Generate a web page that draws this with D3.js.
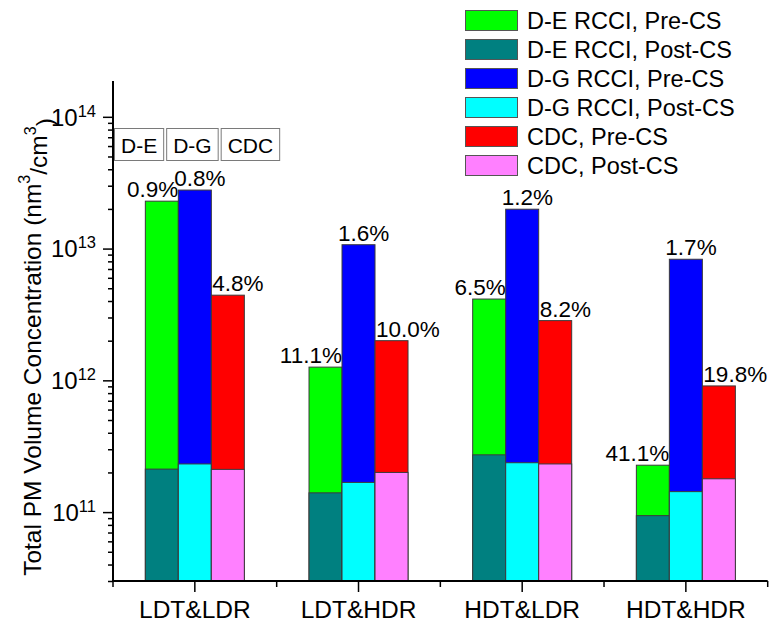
<!DOCTYPE html>
<html>
<head>
<meta charset="utf-8">
<script src="https://cdn.jsdelivr.net/npm/d3@7"></script>
<style>
  html, body { margin: 0; padding: 0; background: #fff; }
  svg { display: block; font-family: Arial, "Liberation Sans", sans-serif; }
</style>
</head>
<body>
<svg id="chart" width="769" height="623"></svg>
<script>
// ---- data ----
const categories = ["LDT&LDR", "LDT&HDR", "HDT&LDR", "HDT&HDR"];
const engines = ["D-E", "D-G", "CDC"];
const seriesNames = [
  "D-E RCCI, Pre-CS", "D-E RCCI, Post-CS",
  "D-G RCCI, Pre-CS", "D-G RCCI, Post-CS",
  "CDC, Pre-CS", "CDC, Post-CS"
];
// Pre-CS (before catalytic stripper) total PM volume, nm^3/cm^3
const preDE  = [2.29e13, 1.26e12, 4.14e12, 2.27e11];
const preDG  = [2.78e13, 1.07e13, 1.99e13, 8.3e12];
const preCDC = [4.43e12, 2.0e12, 2.84e12, 9.07e11];
// Post-CS
const postDE  = [2.12e11, 1.40e11, 2.72e11, 9.4e10];
const postDG  = [2.32e11, 1.68e11, 2.37e11, 1.43e11];
const postCDC = [2.11e11, 2.0e11, 2.32e11, 1.79e11];
// percentage labels (post / pre)
const pctDE  = ["0.9%", "11.1%", "6.5%", "41.1%"];
const pctDG  = ["0.8%", "1.6%", "1.2%", "1.7%"];
const pctCDC = ["4.8%", "10.0%", "8.2%", "19.8%"];
const yMajorTicks = [1e11, 1e12, 1e13, 1e14];
const yTickExponents = ["11", "12", "13", "14"];

// ---- layout ----
const svg = d3.select("#chart");
const X0 = 113, X1 = 767.7, Y0 = 581, Y1 = 81;
const x = d3.scaleBand().domain(categories).range([X0, X1]).padding(0);
const y = d3.scaleLog().domain([3e10, 1.87e14]).range([Y0, Y1]);
const barW = 33;
const colors = {
  pre:  ["#00ff00", "#0000ff", "#ff0000"],
  post: ["#008080", "#00ffff", "#ff80ff"]
};
const pre = [preDE, preDG, preCDC];
const post = [postDE, postDG, postCDC];
const pct = [pctDE, pctDG, pctCDC];

// bars
engines.forEach((eng, k) => {
  const off = (k - 1.5) * barW;
  const g = svg.append("g");
  g.selectAll("rect.pre").data(categories).join("rect")
    .attr("x", d => x(d) + x.bandwidth() / 2 + off)
    .attr("width", barW)
    .attr("y", (d, i) => y(pre[k][i]))
    .attr("height", (d, i) => Y0 - y(pre[k][i]))
    .attr("fill", colors.pre[k])
    .attr("stroke", "#3a3a3a").attr("stroke-width", 1);
  g.selectAll("rect.post").data(categories).join("rect")
    .attr("x", d => x(d) + x.bandwidth() / 2 + off)
    .attr("width", barW)
    .attr("y", (d, i) => y(post[k][i]))
    .attr("height", (d, i) => Y0 - y(post[k][i]))
    .attr("fill", colors.post[k])
    .attr("stroke", "#3a3a3a").attr("stroke-width", 1);
  // percentage labels
  g.selectAll("text").data(categories).join("text")
    .attr("x", d => {
      const left = x(d) + x.bandwidth() / 2 + off;
      return k === 0 ? left + barW : (k === 1 ? left - 4 : left + 1);
    })
    .attr("y", (d, i) => y(pre[k][i]) - 4)
    .attr("text-anchor", k === 0 ? "end" : "start")
    .attr("font-size", 22.5)
    .attr("fill", "#000")
    .text((d, i) => pct[k][i]);
});

// y axis
const minorTicks = [];
for (let e = 10; e <= 14; e++) {
  for (let m = 2; m <= 9; m++) {
    const v = m * Math.pow(10, e);
    if (v >= 3e10 && v <= 1.87e14) minorTicks.push(v);
  }
}
svg.append("g").attr("transform", `translate(${X0},0)`)
  .call(d3.axisLeft(y).tickValues(minorTicks).tickSize(5).tickFormat(""))
  .call(g => g.select(".domain").remove())
  .call(g => g.selectAll("line").attr("stroke", "#000").attr("stroke-width", 1.5));
const yMaj = svg.append("g").attr("transform", `translate(${X0},0)`)
  .call(d3.axisLeft(y).tickValues(yMajorTicks).tickSize(10).tickPadding(7).tickFormat(""))
  .call(g => g.select(".domain").remove())
  .call(g => g.selectAll("line").attr("stroke", "#000").attr("stroke-width", 1.5));
yMaj.selectAll(".tick text").each(function(d, i) {
  const t = d3.select(this);
  t.attr("font-size", 24).attr("font-family", "Arial, 'Liberation Sans', sans-serif")
   .attr("fill", "#000").attr("dy", "0.35em");
  t.append("tspan").text("10");
  t.append("tspan").attr("font-size", 16.5).attr("dy", "-0.55em").text(yTickExponents[i]);
});
svg.append("line").attr("x1", X0).attr("x2", X0).attr("y1", Y1).attr("y2", Y0 + 0.75)
  .attr("stroke", "#000").attr("stroke-width", 2);

// x axis
const xMajor = svg.append("g").attr("transform", `translate(0,${Y0})`)
  .call(d3.axisBottom(x).tickSize(11).tickPadding(10))
  .call(g => g.select(".domain").remove())
  .call(g => g.selectAll("line").attr("stroke", "#000").attr("stroke-width", 1.5));
xMajor.selectAll(".tick text").attr("font-size", 24.5).attr("fill", "#000")
  .attr("font-family", "Arial, 'Liberation Sans', sans-serif")
  .attr("dy", null).attr("y", 36.5);
const bounds = categories.map(c => x(c)).concat([X1]);
svg.append("g").selectAll("line").data(bounds).join("line")
  .attr("x1", d => d).attr("x2", d => d).attr("y1", Y0).attr("y2", Y0 + 6)
  .attr("stroke", "#000").attr("stroke-width", 1.5);
svg.append("line").attr("x1", X0 - 1).attr("x2", X1).attr("y1", Y0).attr("y2", Y0)
  .attr("stroke", "#000").attr("stroke-width", 2);

// y title
const title = svg.append("text")
  .attr("transform", `translate(41,${(Y0 + Y1) / 2 + 16}) rotate(-90)`)
  .attr("text-anchor", "middle").attr("font-size", 24.5).attr("fill", "#000");
title.append("tspan").text("Total PM Volume Concentration (nm");
title.append("tspan").attr("font-size", 16).attr("dy", "-0.7em").text("3");
title.append("tspan").attr("dy", "0.7em").text("/cm");
title.append("tspan").attr("font-size", 16).attr("dy", "-0.7em").text("3");
title.append("tspan").attr("dy", "0.7em").text(")");

// engine boxes
let bx = 114;
engines.forEach(name => {
  const g = svg.append("g");
  const t = g.append("text").attr("font-size", 21).attr("fill", "#000")
    .attr("y", 152.5).text(name);
  const w = t.node().getComputedTextLength() + 13;
  g.insert("rect", "text").attr("x", bx + 0.5).attr("y", 128.5)
    .attr("width", w).attr("height", 32)
    .attr("fill", "#fff").attr("stroke", "#7a7a7a").attr("stroke-width", 1);
  t.attr("x", bx + 0.5 + w / 2).attr("text-anchor", "middle");
  bx += w + 3;
});

// legend
const legendColors = ["#00ff00", "#008080", "#0000ff", "#00ffff", "#ff0000", "#ff80ff"];
const lg = svg.append("g").attr("transform", "translate(465,10)");
seriesNames.forEach((name, i) => {
  const row = lg.append("g").attr("transform", `translate(0,${i * 29})`);
  row.append("rect").attr("x", 0.5).attr("y", 0.5).attr("width", 52).attr("height", 20)
    .attr("fill", legendColors[i]).attr("stroke", "#555").attr("stroke-width", 1);
  row.append("text").attr("x", 62).attr("y", 19).attr("font-size", 23.5)
    .attr("fill", "#000").text(name);
});
</script>
</body>
</html>
